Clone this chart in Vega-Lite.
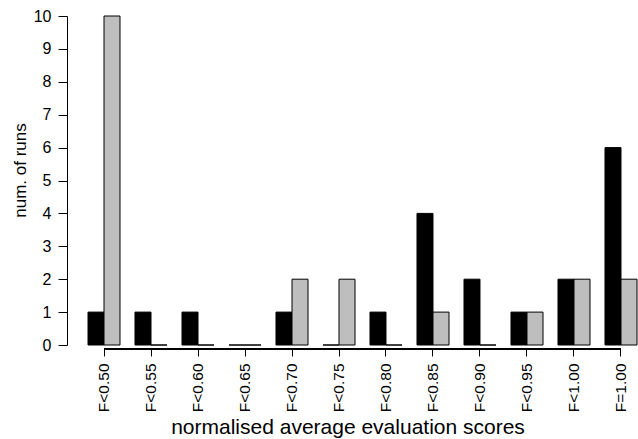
{
  "$schema": "https://vega.github.io/schema/vega-lite/v6.json",
  "autosize": "none",
  "width": 549,
  "height": 329,
  "padding": {"left": 88, "top": 16, "right": 1, "bottom": 94},
  "background": "white",
  "config": {
    "view": {"stroke": null},
    "font": "Liberation Sans"
  },
  "data": {
    "values": [
      {"cat": "F<0.50", "series": "a", "runs": 1},
      {"cat": "F<0.50", "series": "b", "runs": 10},
      {"cat": "F<0.55", "series": "a", "runs": 1},
      {"cat": "F<0.55", "series": "b", "runs": 0},
      {"cat": "F<0.60", "series": "a", "runs": 1},
      {"cat": "F<0.60", "series": "b", "runs": 0},
      {"cat": "F<0.65", "series": "a", "runs": 0},
      {"cat": "F<0.65", "series": "b", "runs": 0},
      {"cat": "F<0.70", "series": "a", "runs": 1},
      {"cat": "F<0.70", "series": "b", "runs": 2},
      {"cat": "F<0.75", "series": "a", "runs": 0},
      {"cat": "F<0.75", "series": "b", "runs": 2},
      {"cat": "F<0.80", "series": "a", "runs": 1},
      {"cat": "F<0.80", "series": "b", "runs": 0},
      {"cat": "F<0.85", "series": "a", "runs": 4},
      {"cat": "F<0.85", "series": "b", "runs": 1},
      {"cat": "F<0.90", "series": "a", "runs": 2},
      {"cat": "F<0.90", "series": "b", "runs": 0},
      {"cat": "F<0.95", "series": "a", "runs": 1},
      {"cat": "F<0.95", "series": "b", "runs": 1},
      {"cat": "F<1.00", "series": "a", "runs": 2},
      {"cat": "F<1.00", "series": "b", "runs": 2},
      {"cat": "F=1.00", "series": "a", "runs": 6},
      {"cat": "F=1.00", "series": "b", "runs": 2}
    ]
  },
  "encoding": {
    "x": {
      "field": "cat",
      "type": "nominal",
      "sort": null,
      "scale": {"paddingInner": 0.319, "paddingOuter": 0},
      "axis": {
        "title": "normalised average evaluation scores",
        "titleFontSize": 21,
        "titleFontWeight": "normal",
        "titleColor": "black",
        "titlePadding": 5,
        "titleX": 259.5,
        "titleAlign": "center",
        "labelAngle": -90,
        "labelAlign": "right",
        "labelBaseline": "middle",
        "labelFontSize": 15.5,
        "labelColor": "black",
        "labelPadding": 7,
        "labelOverlap": false,
        "domain": false,
        "ticks": true,
        "tickColor": "black",
        "tickSize": 7,
        "offset": 4,
        "grid": false
      }
    }
  },
  "layer": [
    {
      "mark": {"type": "bar", "stroke": "black", "strokeWidth": 1},
      "encoding": {
        "xOffset": {"field": "series", "type": "nominal", "scale": {"paddingInner": 0, "paddingOuter": 0}},
        "y": {
          "field": "runs",
          "type": "quantitative",
          "scale": {"domain": [0, 10], "nice": false},
          "axis": {
            "title": "num. of runs",
            "titleFontSize": 17,
            "titleFontWeight": "normal",
            "titleColor": "black",
            "titlePadding": 4,
            "titleY": 154,
            "values": [0, 1, 2, 3, 4, 5, 6, 7, 8, 9, 10],
            "labelOverlap": false,
            "labelFontSize": 16,
            "labelColor": "black",
            "labelPadding": 7,
            "tickSize": 9,
            "tickColor": "black",
            "domainColor": "black",
            "offset": 21,
            "grid": false
          }
        },
        "fill": {
          "field": "series",
          "type": "nominal",
          "scale": {"domain": ["a", "b"], "range": ["#000000", "#BEBEBE"]},
          "legend": null
        }
      }
    },
    {
      "mark": {"type": "rule", "color": "black", "strokeWidth": 1},
      "encoding": {
        "x": {"datum": "F<0.50"},
        "x2": {"datum": "F=1.00"},
        "y": {
          "datum": -0.12,
          "axis": {
            "title": "num. of runs",
            "titleFontSize": 17,
            "titleFontWeight": "normal",
            "titleColor": "black",
            "titlePadding": 4,
            "titleY": 154,
            "values": [0, 1, 2, 3, 4, 5, 6, 7, 8, 9, 10],
            "labelOverlap": false,
            "labelFontSize": 16,
            "labelColor": "black",
            "labelPadding": 7,
            "tickSize": 9,
            "tickColor": "black",
            "domainColor": "black",
            "offset": 21,
            "grid": false
          }
        }
      }
    }
  ]
}
